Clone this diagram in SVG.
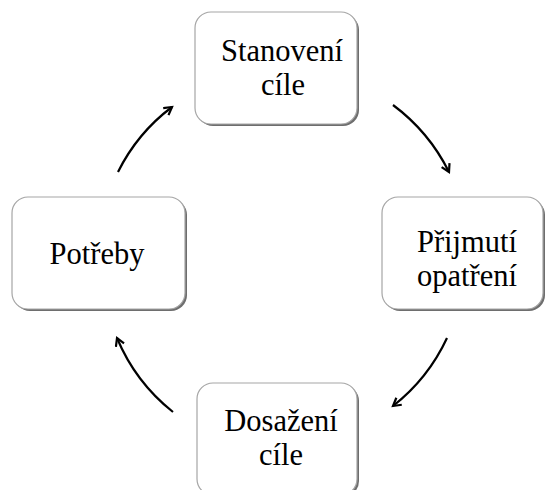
<svg xmlns="http://www.w3.org/2000/svg" width="545" height="490" viewBox="0 0 545 490">
<style>
.sh{fill:#6e6e6e}
.bx{fill:#ffffff;stroke:#a6a6a6;stroke-width:1.2}
.t{font-family:"Liberation Serif","Times New Roman",serif;font-size:30.5px;fill:#000;text-anchor:middle}
.c{fill:none;stroke:#000;stroke-width:2.2}
</style>
<defs>
<marker id="ah" viewBox="0 0 10 10" refX="8" refY="5" markerWidth="5" markerHeight="5" orient="auto" markerUnits="strokeWidth">
<path d="M1,1 L8,5 L1,9" fill="none" stroke="#000" stroke-width="2"/>
</marker>
</defs>
<rect width="545" height="490" fill="#fff"/>
<g id="connectors">
<path class="c" d="M118,172 A183 183 0 0 1 172,107" marker-end="url(#ah)"/>
<path class="c" d="M393,105 A188 188 0 0 1 449,172" marker-end="url(#ah)"/>
<path class="c" d="M447,338 A186 186 0 0 1 393,406" marker-end="url(#ah)"/>
<path class="c" d="M173,412 A186 186 0 0 1 117,338" marker-end="url(#ah)"/>
</g>
<g id="node-stanoveni">
<rect class="sh" x="197" y="14" width="162" height="112" rx="16"/>
<rect class="bx" x="195" y="12" width="162" height="112" rx="16"/>
<text class="t" x="282" y="61">Stanovení</text>
<text class="t" x="283" y="95">cíle</text>
</g>
<g id="node-prijmuti">
<rect class="sh" x="384" y="199" width="161" height="112" rx="16"/>
<rect class="bx" x="382" y="197" width="161" height="112" rx="16"/>
<text class="t" x="467" y="252">Přijmutí</text>
<text class="t" x="467" y="286">opatření</text>
</g>
<g id="node-potreby">
<rect class="sh" x="14" y="199" width="173" height="112" rx="16"/>
<rect class="bx" x="12" y="197" width="173" height="112" rx="16"/>
<text class="t" x="97" y="264">Potřeby</text>
</g>
<g id="node-dosazeni">
<rect class="sh" x="199" y="385" width="160" height="112" rx="16"/>
<rect class="bx" x="197" y="383" width="160" height="112" rx="16"/>
<text class="t" x="281" y="431">Dosažení</text>
<text class="t" x="281" y="465">cíle</text>
</g>
</svg>
